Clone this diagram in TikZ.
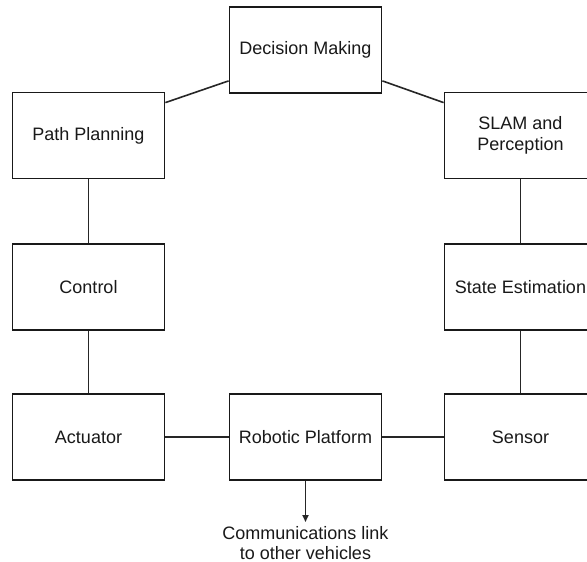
\documentclass[tikz,border=0pt]{standalone}
\usepackage{fontspec}
\setmainfont{Liberation Sans}
\usetikzlibrary{arrows.meta}
\begin{document}
\begin{tikzpicture}[x=1pt,y=-1pt,
  block/.style={draw=black!90, line width=1.8pt, minimum width=152pt, minimum height=86pt,
    inner sep=0pt, align=center, font=\fontsize{18}{21}\selectfont, text=black!90},
  link/.style={draw=black!85, line width=1.6pt}]
\clip (0,0) rectangle (587,562);
\fill[white] (0,0) rectangle (587,562);
\node[block] (dm) at (305.5,50) {Decision Making};
\node[block] (pp) at (88.5,135.5) {Path Planning};
\node[block] (slam) at (520.5,135.5) {SLAM and\\Perception};
\node[block] (ctrl) at (88.5,287) {Control};
\node[block] (se) at (520.5,287) {State Estimation};
\node[block] (act) at (88.5,437) {Actuator};
\node[block] (rp) at (305.5,437) {Robotic Platform};
\node[block] (sen) at (520.5,437) {Sensor};
\node[anchor=north, inner xsep=0pt, inner ysep=4.5pt, align=center,
  font=\fontsize{18}{20}\selectfont, text=black!90] (comm) at (305.5,522)
  {Communications link\\to other vehicles};
\draw[link] ([yshift=13pt]dm.south west) -- ([yshift=-11pt]pp.north east);
\draw[link] ([yshift=13pt]dm.south east) -- ([yshift=-11pt]slam.north west);
\draw[link] (pp) -- (ctrl);
\draw[link] (ctrl) -- (act);
\draw[link] (slam) -- (se);
\draw[link] (se) -- (sen);
\draw[link] (act) -- (rp);
\draw[link] (rp) -- (sen);
\draw[link, -{Triangle[length=7pt,width=6pt]}] (rp.south) -- (comm.north);
\end{tikzpicture}
\end{document}
